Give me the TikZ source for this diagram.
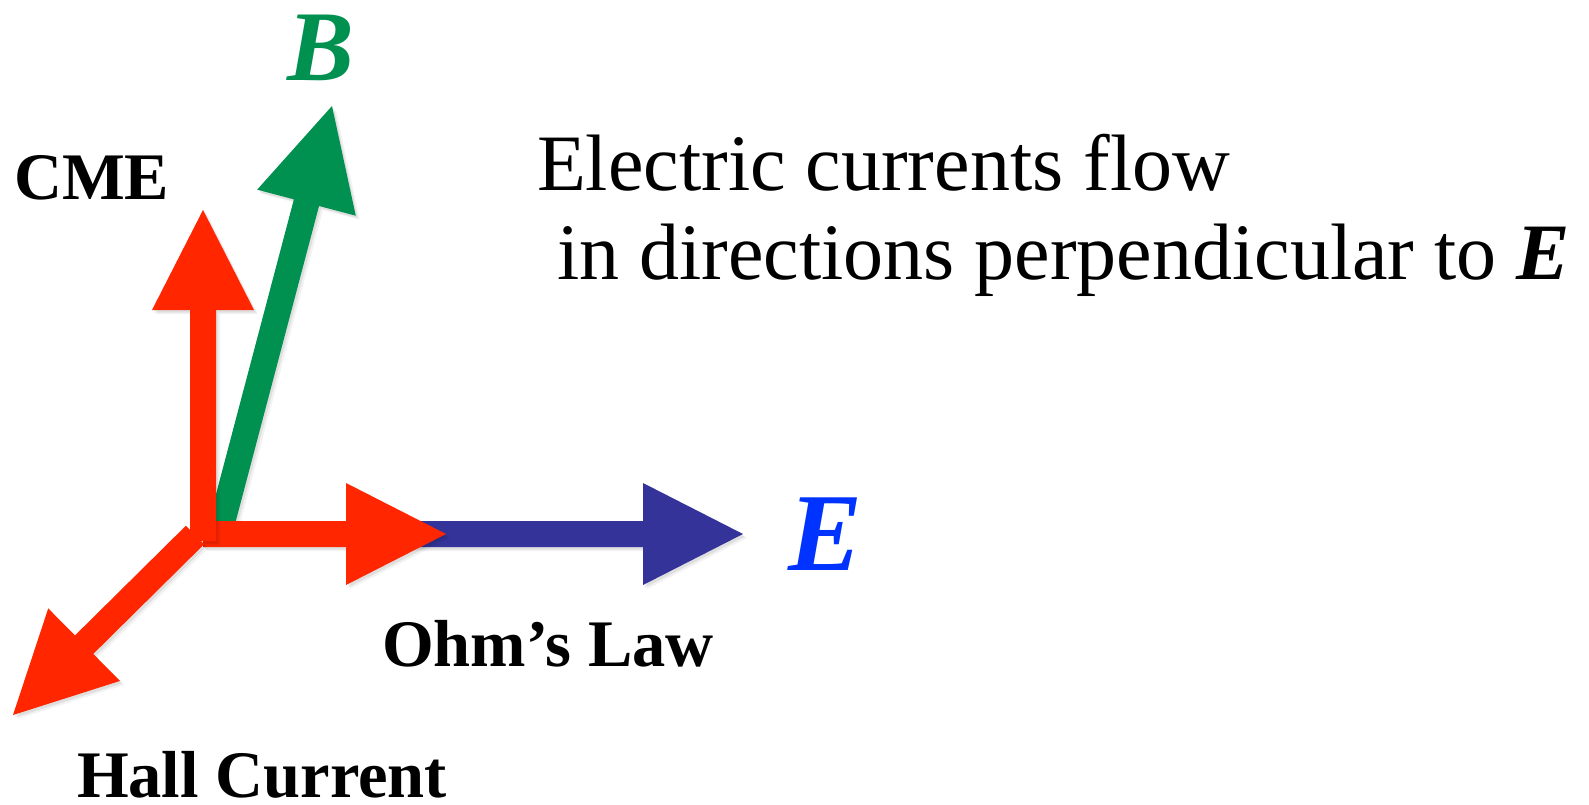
\documentclass[tikz,border=0pt]{standalone}
\usepackage{fontspec}
\setmainfont{Liberation Serif}
\usetikzlibrary{calc}
\definecolor{arrred}{RGB}{255,38,0}
\definecolor{arrgreen}{RGB}{0,145,80}
\definecolor{arrnavy}{RGB}{51,51,153}
\definecolor{eblue}{RGB}{0,51,255}
\newcommand{\arrpoly}[3]{%
  \path ($(#3)!100pt!(#2)$) coordinate (hb);
  \fill[#1] ($(#2)!13pt!90:(#3)$) -- ($(hb)!13pt!90:(#3)$) -- ($(hb)!51pt!90:(#3)$)
    -- (#3) -- ($(hb)!51pt!-90:(#3)$) -- ($(hb)!13pt!-90:(#3)$) -- ($(#2)!13pt!-90:(#3)$) -- cycle;
}
\newcommand{\fatarrow}[3]{%
  \begin{scope}[transform canvas={shift={(4pt,-4pt)}}]\arrpoly{black,opacity=0.05}{#2}{#3}\end{scope}
  \begin{scope}[transform canvas={shift={(2pt,-2.5pt)}}]\arrpoly{black,opacity=0.08}{#2}{#3}\end{scope}
  \arrpoly{#1}{#2}{#3}
}
\tikzset{
  lbl/.style={inner sep=0pt, outer sep=0pt, font=\fontsize{66.5}{78}\selectfont\bfseries, anchor=base west},
  txt/.style={inner sep=0pt, outer sep=0pt, font=\fontsize{80}{96}\selectfont, anchor=base west},
  vec/.style={inner sep=0pt, outer sep=0pt, anchor=base}
}
\begin{document}
\begin{tikzpicture}[x=1pt,y=-1pt]
\useasboundingbox (0,0) rectangle (1589,805);
% arrow end points
\coordinate (gS) at (220,530);
\coordinate (gT) at (332,106);
\coordinate (bS) at (400,534);
\coordinate (bT) at (743,534);
\coordinate (hS) at (203,534);
\coordinate (hT) at (446,534);
\coordinate (vS) at (203,541);
\coordinate (vT) at (203,210);
\coordinate (dS) at (195,535);
\coordinate (dT) at (13,715);
% arrows
\fatarrow{arrgreen}{gS}{gT}
\fatarrow{arrnavy}{bS}{bT}
\fatarrow{arrred}{hS}{hT}
\fatarrow{arrred}{vS}{vT}
\fatarrow{arrred}{dS}{dT}
% labels
\node[vec, text=arrgreen, font=\fontsize{100}{110}\selectfont\bfseries\itshape] (B) at (321,81) {B};
\node[vec, text=eblue, font=\fontsize{111}{120}\selectfont\bfseries\itshape] (E) at (826,570) {E};
\node[lbl] (cme) at (14,200) {CME};
\node[lbl] (ohm) at (382,666) {Ohm’s Law};
\node[lbl] (hall) at (77,797) {Hall Current};
\node[txt] (line1) at (537,190) {Electric currents flow};
\node[txt] (line2) at (557,279) {in directions perpendicular to \textbf{\textit{E}}};
\end{tikzpicture}
\end{document}
